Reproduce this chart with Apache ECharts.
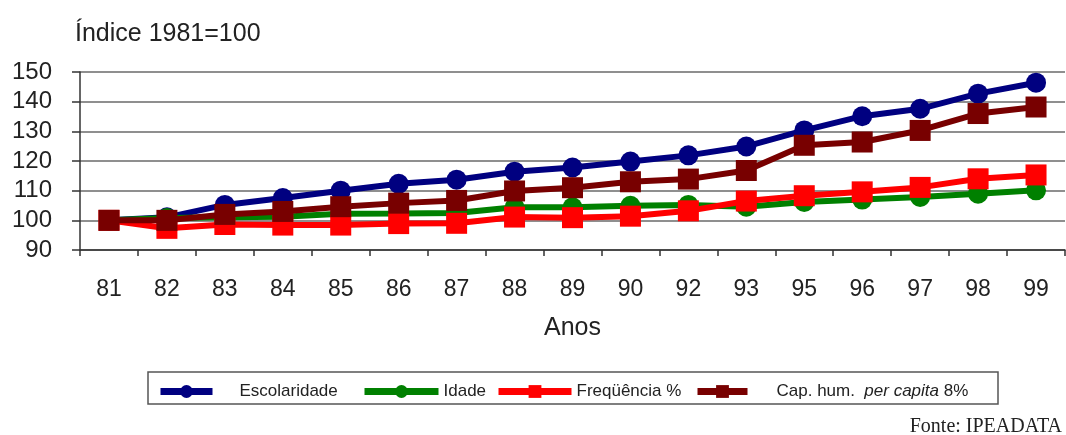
<!DOCTYPE html>
<html>
<head>
<meta charset="utf-8">
<script src="https://cdn.jsdelivr.net/npm/echarts@6/dist/echarts.min.js"></script>
<style>
  html, body { margin: 0; padding: 0; background: #fff; }
  #chart { width: 1066px; height: 435px; }
</style>
</head>
<body>
<div id="chart"></div>
<script>
// Anos (category axis)
const years = ['81', '82', '83', '84', '85', '86', '87', '88', '89', '90', '92', '93', '95', '96', '97', '98', '99'];

// Índices, 1981 = 100
const escolaridade = [100, 101, 105.2, 107.5, 110, 112.3, 113.7, 116.4, 117.8, 119.8, 121.9, 124.9, 130.3, 135.1, 137.6, 142.7, 146.4];
const idade        = [100, 100.8, 101, 101.2, 102.2, 102.3, 102.5, 104.4, 104.4, 104.9, 105.2, 104.6, 106.2, 107, 107.9, 109, 110.1];
const frequencia   = [100, 97.3, 98.6, 98.4, 98.4, 98.9, 99, 101.1, 100.9, 101.4, 103.2, 106.5, 108.3, 109.6, 111.1, 114, 115.3];
const capHum       = [100, 100, 102, 103, 104.6, 105.8, 106.7, 109.9, 111, 113, 113.9, 116.8, 125.3, 126.4, 130.3, 136, 138.2];

const yTicks = { min: 90, max: 150, step: 10 };

const FONT = '"Liberation Sans", Arial, sans-serif';
const TXT = '#222';

const names = ['Escolaridade', 'Idade', 'Freqüência %', 'Cap. hum. per capita 8%'];
const colors = ['#000080', '#008000', '#ff0000', '#780000'];
const symbols = ['circle', 'circle', 'rect', 'rect'];
const sizes = [20, 20, 21, 21];
const values = [escolaridade, idade, frequencia, capHum];

const series = names.map((n, i) => ({
  name: n,
  type: 'line',
  data: values[i],
  symbol: symbols[i],
  symbolSize: sizes[i],
  showSymbol: true,
  lineStyle: { color: colors[i], width: 6 },
  itemStyle: { color: colors[i] },
  emphasis: { disabled: true },
  z: 2 + i
}));

// one legend block per entry so each sits at its own spot in the framed box
const legendSpec = [
  { left: 152, width: 52, pad: 22 },
  { left: 356, width: 74, pad: 0 },
  { left: 490, width: 73, pad: 0 },
  { left: 689, width: 50, pad: 24 }
];
const legends = legendSpec.map((s, i) => ({
  data: [names[i]],
  left: s.left,
  top: 378,
  itemWidth: s.width,
  itemHeight: 16,
  selectedMode: false,
  lineStyle: { width: 7 },
  textStyle: {
    fontFamily: FONT, fontSize: 17, color: TXT,
    padding: [0, 0, 0, s.pad],
    rich: {
      a: { fontFamily: FONT, fontSize: 17, color: TXT },
      b: { fontFamily: FONT, fontSize: 17, color: TXT, fontStyle: 'italic' }
    }
  },
  formatter: i === 3 ? '{a|Cap. hum.  }{b|per capita}{a| 8%}' : undefined
}));

const chart = echarts.init(document.getElementById('chart'), null, { renderer: 'canvas' });
chart.setOption({
  animation: false,
  backgroundColor: '#fff',
  title: {
    text: 'Índice 1981=100',
    left: 70, top: 17,
    textStyle: { fontFamily: FONT, fontSize: 25, fontWeight: 'normal', color: TXT }
  },
  grid: { left: 80, right: 1, top: 72, bottom: 185 },
  legend: legends,
  xAxis: {
    type: 'category',
    data: years,
    boundaryGap: true,
    name: 'Anos',
    nameLocation: 'middle',
    nameGap: 66,
    nameTextStyle: { fontFamily: FONT, fontSize: 25, color: TXT },
    axisLine: { lineStyle: { color: '#333', width: 1.5 } },
    axisTick: { show: true, interval: 0, length: 6, lineStyle: { color: '#333', width: 1.5 } },
    axisLabel: { interval: 0, margin: 28, fontFamily: FONT, fontSize: 23, color: TXT }
  },
  yAxis: {
    type: 'value',
    min: yTicks.min, max: yTicks.max, interval: yTicks.step,
    axisLine: { show: true, lineStyle: { color: '#333', width: 1.5 } },
    axisTick: { show: true, length: 8, lineStyle: { color: '#333', width: 1.5 } },
    axisLabel: { margin: 28, fontFamily: FONT, fontSize: 24, color: TXT },
    splitLine: { show: true, lineStyle: { color: '#8f8f8f', width: 2 } }
  },
  series: series,
  graphic: [
    {
      type: 'rect',
      shape: { x: 148, y: 372, width: 850, height: 32 },
      style: { fill: 'none', stroke: '#555', lineWidth: 1.5 },
      z: 0
    },
    {
      type: 'text',
      right: 4, top: 417,
      style: { text: 'Fonte: IPEADATA', font: '20px "Liberation Serif", "Times New Roman", serif', fill: TXT }
    }
  ]
});
</script>
</body>
</html>
